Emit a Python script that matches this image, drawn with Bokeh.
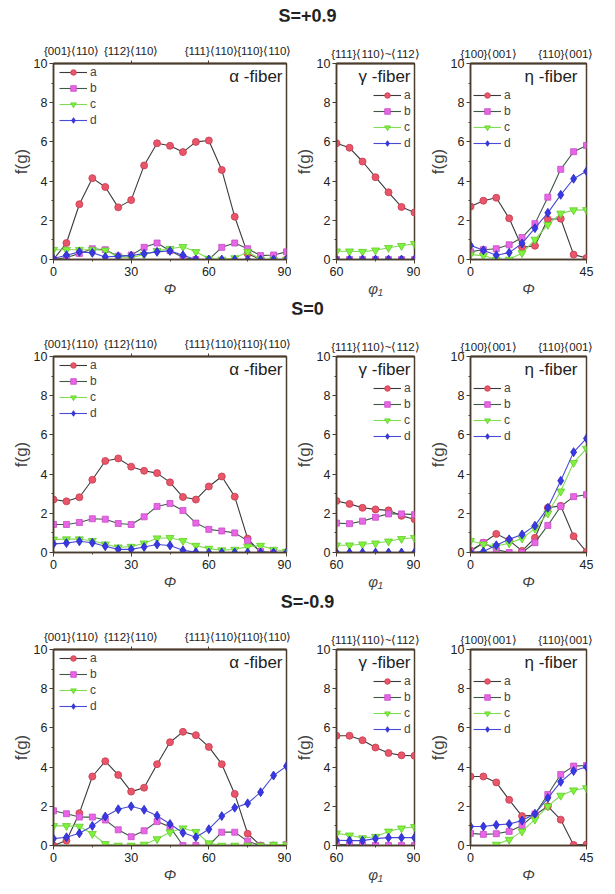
import math
from bokeh.plotting import figure
from bokeh.models import (Range1d, LinearAxis, FixedTicker, SingleIntervalTicker,
                          Label, Legend, LegendItem, Div)
from bokeh.layouts import column, row
from bokeh.embed import file_html
from bokeh.resources import INLINE

NAN = float("nan")

# ---------------- data ----------------
PHI_ALPHA = [0, 5, 10, 15, 20, 25, 30, 35, 40, 45, 50, 55, 60, 65, 70, 75, 80, 85, 90]
PHI1_GAMMA = [60, 65, 70, 75, 80, 85, 90]
PHI_ETA = [0, 5, 10, 15, 20, 25, 30, 35, 40, 45]

ROW_TITLES = ["S=+0.9", "S=0", "S=-0.9"]
SERIES = ["a", "b", "c", "d"]

ALPHA_TOP_TICKS = [7, 30, 61, 82]
ALPHA_TOP_LABELS = ["{001}⟨110⟩", "{112}⟨110⟩", "{111}⟨110⟩", "{110}⟨110⟩"]
GAMMA_TOP_TICKS = [75]
GAMMA_TOP_LABELS = ["{111}⟨110⟩~⟨112⟩"]
ETA_TOP_TICKS = [7, 37]
ETA_TOP_LABELS = ["{100}⟨001⟩", "{110}⟨001⟩"]

# S = +0.9
alpha_a_p = [0.0, 0.84, 2.82, 4.15, 3.7, 2.66, 3.03, 4.8, 5.93, 5.8, 5.48, 6.0, 6.07, 4.57, 2.18, 0.29, 0.0, 0.0, 0.0]
alpha_b_p = [0.0, 0.1, 0.3, 0.55, 0.5, 0.17, 0.22, 0.62, 0.84, 0.45, 0.1, 0.0, 0.0, 0.62, 0.84, 0.55, 0.2, 0.23, 0.39]
alpha_c_p = [0.5, 0.5, 0.5, 0.5, 0.47, 0.13, 0.1, 0.25, 0.44, 0.55, 0.65, 0.39, 0.05, 0.0, 0.07, 0.4, 0.0, 0.0, 0.0]
alpha_d_p = [0.05, 0.22, 0.39, 0.34, 0.13, 0.17, 0.2, 0.3, 0.39, 0.44, 0.22, 0.0, 0.0, 0.0, 0.0, 0.0, 0.0, 0.0, 0.0]
gamma_a_p = [5.93, 5.7, 5.0, 4.2, 3.43, 2.68, 2.4]
gamma_b_p = [0.0, 0.0, 0.0, 0.0, 0.0, 0.0, 0.0]
gamma_c_p = [0.42, 0.42, 0.4, 0.47, 0.6, 0.7, 0.8]
gamma_d_p = [0.0, 0.0, 0.0, 0.0, 0.0, 0.0, 0.0]
eta_a_p = [2.7, 3.0, 3.15, 2.1, 0.62, 0.7, 2.05, 2.08, 0.25, 0.08]
eta_b_p = [0.4, 0.5, 0.55, 0.75, 1.12, 1.83, 3.18, 4.6, 5.5, 5.82]
eta_c_p = [0.25, 0.2, 0.0, 0.0, 0.33, 1.02, 1.77, 2.35, 2.52, 2.53]
eta_d_p = [0.72, 0.47, 0.22, 0.35, 0.82, 1.6, 2.38, 3.3, 4.12, 4.5]

# S = 0
alpha_a_0 = [2.7, 2.61, 2.82, 3.71, 4.67, 4.8, 4.38, 4.17, 4.05, 3.58, 2.83, 2.7, 3.37, 3.88, 2.85, 0.71, 0.0, 0.0, 0.0]
alpha_b_0 = [1.43, 1.43, 1.53, 1.72, 1.7, 1.48, 1.43, 1.82, 2.35, 2.5, 2.14, 1.5, 1.18, 1.1, 1.0, 0.6, 0.05, 0.0, 0.0]
alpha_c_0 = [0.67, 0.68, 0.68, 0.6, 0.42, 0.27, 0.3, 0.47, 0.73, 0.75, 0.6, 0.35, 0.2, 0.12, 0.15, 0.3, 0.35, 0.15, 0.05]
alpha_d_0 = [0.44, 0.48, 0.57, 0.5, 0.32, 0.16, 0.16, 0.28, 0.41, 0.36, 0.11, 0.02, 0.0, 0.0, 0.0, 0.0, 0.0, 0.0, 0.0]
gamma_a_0 = [2.63, 2.48, 2.28, 2.2, 2.15, 1.87, 1.7]
gamma_b_0 = [1.5, 1.47, 1.6, 1.8, 1.97, 1.97, 1.93]
gamma_c_0 = [0.37, 0.37, 0.42, 0.47, 0.57, 0.7, 0.75]
gamma_d_0 = [0.0, 0.0, 0.0, 0.0, 0.0, 0.0, 0.0]
eta_a_0 = [0.1, 0.5, 0.95, 0.62, 0.08, 0.75, 2.28, 2.38, 0.83, 0.03]
eta_b_0 = [0.05, 0.5, 0.15, 0.0, 0.0, 0.5, 1.38, 2.35, 2.85, 2.95]
eta_c_0 = [0.6, 0.42, 0.33, 0.47, 0.72, 1.22, 2.0, 3.12, 4.58, 5.3]
eta_d_0 = [0.0, 0.05, 0.37, 0.67, 0.92, 1.37, 2.28, 3.66, 5.12, 5.82]

# S = -0.9
alpha_a_m = [0.0, 0.25, 1.65, 3.52, 4.3, 3.6, 2.75, 2.95, 4.15, 5.27, 5.8, 5.63, 5.03, 4.15, 2.63, 0.6, 0.0, 0.0, 0.0]
alpha_b_m = [1.77, 1.62, 1.45, 1.45, 1.3, 0.8, 0.45, 0.75, 1.22, 0.95, 0.0, 0.0, 0.0, 0.68, 0.68, 0.22, 0.0, 0.0, 0.05]
alpha_c_m = [1.0, 1.0, 0.97, 0.6, 0.08, 0.0, 0.0, 0.05, 0.33, 0.68, 0.88, 0.7, 0.12, 0.0, 0.0, 0.0, 0.0, 0.05, 0.05]
alpha_d_m = [0.35, 0.42, 0.62, 1.0, 1.48, 1.85, 2.0, 1.82, 1.52, 1.1, 0.65, 0.42, 0.83, 1.5, 1.93, 2.15, 2.72, 3.57, 4.05]
gamma_a_m = [5.6, 5.6, 5.37, 5.0, 4.72, 4.6, 4.58]
gamma_b_m = [0.05, 0.03, 0.02, 0.0, 0.0, 0.0, 0.0]
gamma_c_m = [0.62, 0.52, 0.38, 0.45, 0.72, 0.88, 0.95]
gamma_d_m = [0.27, 0.25, 0.25, 0.35, 0.4, 0.4, 0.4]
eta_a_m = [3.52, 3.52, 3.22, 2.33, 1.5, 1.55, 2.0, 1.32, 0.03, 0.05]
eta_b_m = [0.62, 0.57, 0.6, 0.72, 1.02, 1.6, 2.6, 3.62, 4.05, 4.08]
eta_c_m = [NAN, NAN, 0.05, 0.3, 0.72, 1.33, 2.0, 2.55, 2.82, 2.93]
eta_d_m = [0.97, 0.97, 1.05, 1.1, 1.27, 1.62, 2.42, 3.25, 3.8, 4.02]

ROWS = [
    {"alpha": [alpha_a_p, alpha_b_p, alpha_c_p, alpha_d_p],
     "gamma": [gamma_a_p, gamma_b_p, gamma_c_p, gamma_d_p],
     "eta": [eta_a_p, eta_b_p, eta_c_p, eta_d_p]},
    {"alpha": [alpha_a_0, alpha_b_0, alpha_c_0, alpha_d_0],
     "gamma": [gamma_a_0, gamma_b_0, gamma_c_0, gamma_d_0],
     "eta": [eta_a_0, eta_b_0, eta_c_0, eta_d_0]},
    {"alpha": [alpha_a_m, alpha_b_m, alpha_c_m, alpha_d_m],
     "gamma": [gamma_a_m, gamma_b_m, gamma_c_m, gamma_d_m],
     "eta": [eta_a_m, eta_b_m, eta_c_m, eta_d_m]},
]

# ---------------- style ----------------
FONT = "Liberation Sans"
FRAME = "#4b3d2e"
LINE_COLORS = ["#3a3a3a", "#3c5a44", "#7edc55", "#4a4ad6"]
FILL_COLORS = ["#e8566a", "#e866e6", "#80f23e", "#3838e4"]
EDGE_COLORS = ["#c83a50", "#c84cc8", "#62cc2a", "#2a2ac0"]
MARKERS = ["circle", "square", "inverted_triangle", "diamond"]
SIZES = [7, 6, 8, 9]

PANELS = {
    "alpha": dict(x=PHI_ALPHA, xr=(0, 90), width=283, left=45, right=5,
                  ticks=[0, 30, 60, 90], minor=[15, 45, 75], xlabel="Φ",
                  top_ticks=ALPHA_TOP_TICKS, top_labels=ALPHA_TOP_LABELS, top_minor=[30, 60],
                  name="α -fiber", name_off=-4, leg=(6, 132)),
    "gamma": dict(x=PHI1_GAMMA, xr=(60, 90), width=129, left=44, right=6,
                  ticks=[60, 90], minor=[75], xlabel="φ₁",
                  top_ticks=GAMMA_TOP_TICKS, top_labels=GAMMA_TOP_LABELS, top_minor=[],
                  name="γ -fiber", name_off=-4, leg=(37, 109)),
    "eta": dict(x=PHI_ETA, xr=(0, 45), width=181, left=50, right=15,
                ticks=[0, 45], minor=[], xlabel="Φ",
                top_ticks=ETA_TOP_TICKS, top_labels=ETA_TOP_LABELS, top_minor=[],
                name="η -fiber", name_off=-9, leg=(3, 109)),
}


def make_panel(kind, values, height, top, bottom):
    cfg = PANELS[kind]
    p = figure(width=cfg["width"], height=height, output_backend="svg",
               toolbar_location=None, x_range=Range1d(*cfg["xr"]), y_range=Range1d(0, 10),
               min_border_left=cfg["left"], min_border_right=cfg["right"],
               min_border_top=top, min_border_bottom=bottom,
               x_axis_location="below", y_axis_location="left")
    p.xgrid.visible = False
    p.ygrid.visible = False
    p.outline_line_color = FRAME
    p.outline_line_width = 1.5
    p.background_fill_color = "white"
    p.border_fill_color = "white"

    xa = p.xaxis[0]
    xa.ticker = FixedTicker(ticks=cfg["ticks"], minor_ticks=cfg["minor"])
    xa.axis_label = cfg["xlabel"]
    xa.axis_label_text_font_style = "italic"
    xa.axis_label_text_font = FONT
    xa.axis_label_text_font_size = "15px"
    ya = p.yaxis[0]
    ya.ticker = SingleIntervalTicker(interval=2, num_minor_ticks=2)
    ya.axis_label = "f(g)"
    ya.axis_label_text_font_style = "normal"
    ya.axis_label_text_font = FONT
    ya.axis_label_text_font_size = "17px"
    ya.axis_label_standoff = 0
    for ax in (xa, ya):
        ax.axis_line_color = FRAME
        ax.axis_line_width = 1.5
        ax.major_tick_line_color = FRAME
        ax.minor_tick_line_color = FRAME
        ax.major_tick_in = 0
        ax.major_tick_out = 4
        ax.minor_tick_in = 0
        ax.minor_tick_out = 2
        ax.major_label_text_font = FONT
        ax.major_label_text_font_size = "12.5px"
        ax.major_label_text_color = "#222222"
        ax.major_label_standoff = 2
    xa.major_label_standoff = 3
    xa.axis_label_standoff = 1

    top_ax = LinearAxis(ticker=FixedTicker(ticks=cfg["top_ticks"], minor_ticks=cfg["top_minor"]),
                        major_label_overrides={t: l for t, l in zip(cfg["top_ticks"], cfg["top_labels"])})
    top_ax.axis_line_color = FRAME
    top_ax.axis_line_width = 2
    top_ax.major_tick_in = 0
    top_ax.major_tick_out = 0
    top_ax.minor_tick_in = 0
    top_ax.minor_tick_out = 3
    top_ax.minor_tick_line_color = FRAME
    top_ax.major_label_text_font = FONT
    top_ax.major_label_text_font_size = "11.5px"
    top_ax.major_label_text_color = "#222222"
    top_ax.major_label_standoff = 4
    p.add_layout(top_ax, "above")

    items = []
    for i, s in enumerate(SERIES):
        lr = p.line(cfg["x"], values[i], line_color=LINE_COLORS[i], line_width=1.1)
        sr = p.scatter(cfg["x"], values[i], marker=MARKERS[i], size=SIZES[i],
                       fill_color=FILL_COLORS[i], line_color=EDGE_COLORS[i], line_width=0.8)
        items.append(LegendItem(label=s, renderers=[lr, sr]))
    leg = Legend(items=items, location=cfg["leg"], margin=0, padding=0, spacing=2,
                 glyph_width=28, glyph_height=14, label_height=14, label_standoff=3,
                 label_text_font=FONT, label_text_font_size="12px",
                 background_fill_alpha=0, border_line_alpha=0)
    p.add_layout(leg, "center")

    p.add_layout(Label(x=cfg["xr"][1], y=9.34, x_offset=cfg["name_off"], text=cfg["name"],
                       text_align="right", text_baseline="middle",
                       text_font=FONT, text_font_size="17px", text_color="#222222"))
    return p


blocks = []
for r, data in enumerate(ROWS):
    top, frame_h, bottom = 42, 196, 42
    h = top + frame_h + bottom
    title = Div(text=ROW_TITLES[r], width=593, height=13, margin=0,
                styles={"text-align": "center", "font-weight": "bold", "font-size": "18px",
                        "font-family": FONT, "color": "#222222", "width": "599px",
                        "line-height": "16px", "overflow": "visible"})
    panels = [make_panel(k, data[k], h, top, bottom) for k in ("alpha", "gamma", "eta")]
    blocks.append(title)
    blocks.append(row(*panels, spacing=0))

layout = column(*blocks, spacing=0, margin=(8, 0, 0, 8))
open("out.html", "w").write(file_html(layout, INLINE))
